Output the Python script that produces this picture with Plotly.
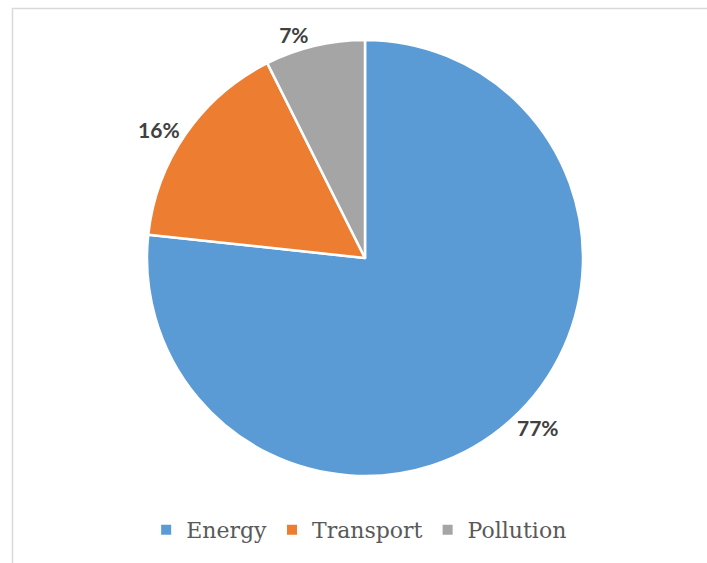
import plotly.graph_objects as go

categories = ["Energy", "Transport", "Pollution"]
values = [76.7, 15.9, 7.4]
colors = ["#5B9BD5", "#ED7D31", "#A5A5A5"]

W, H = 707, 563
cx, cy, r = 365, 258, 218

fig = go.Figure(go.Pie(
    labels=categories,
    values=values,
    sort=False,
    direction="clockwise",
    rotation=0,
    marker=dict(colors=colors, line=dict(color="white", width=2.5)),
    textinfo="percent",
    texttemplate="%{percent:.0%}",
    textposition="outside",
    textfont=dict(family="Lato", size=21, color="#404040", weight="bold"),
    outsidetextfont=dict(family="Lato", size=21, color="#404040", weight="bold"),
    domain=dict(x=[(cx - r) / W, (cx + r) / W], y=[1 - (cy + r) / H, 1 - (cy - r) / H]),
    hoverinfo="label+percent",
))

fig.update_layout(
    width=W, height=H,
    margin=dict(l=0, r=0, t=0, b=0),
    paper_bgcolor="white",
    showlegend=True,
    legend=dict(
        orientation="h", x=0.508, xanchor="center", y=1 - 530 / H, yanchor="middle",
        font=dict(family="DejaVu Serif", size=22, color="#595959"),
        itemsizing="constant",
    ),
    shapes=[dict(
        type="rect", xref="paper", yref="paper",
        x0=12.5 / W, x1=1.05, y0=-0.05, y1=1 - 8.5 / H,
        line=dict(color="#D9D9D9", width=1.5), layer="below",
    )],
)

fig.write_html("out.html")
